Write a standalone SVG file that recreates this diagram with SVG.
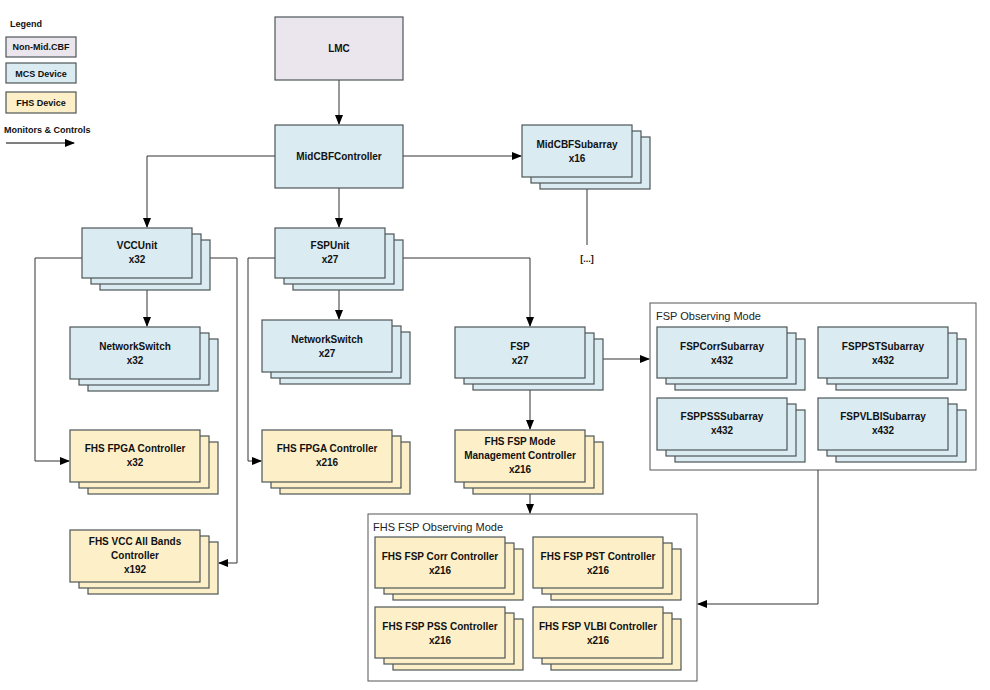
<svg xmlns="http://www.w3.org/2000/svg" width="990" height="690" viewBox="0 0 990 690">
<defs>
<style>
.m{fill:#daebf1;stroke:#4d5558;stroke-width:1.2}
.f{fill:#fdf0c9;stroke:#4d5558;stroke-width:1.2}
.n{fill:#ebe6ee;stroke:#4d5558;stroke-width:1.2}
.c{fill:none;stroke:#fff;stroke-width:0}
.t{font-family:"Liberation Sans",Arial,sans-serif;font-weight:bold;font-size:10px;fill:#111;text-anchor:middle}
.l{font-family:"Liberation Sans",Arial,sans-serif;font-size:11px;fill:#222}
.e{fill:none;stroke:#333;stroke-width:1}
.b{fill:#fff;stroke:#555;stroke-width:1}
</style>
<marker id="a" markerWidth="10" markerHeight="8" refX="9" refY="4" orient="auto" markerUnits="userSpaceOnUse"><path d="M0,0L10,4L0,8Z" fill="#000"/></marker>
</defs>
<rect width="990" height="690" fill="#fff"/>
<g id="legend">
<text class="t" x="10" y="27" style="text-anchor:start;font-size:9px">Legend</text>
<rect class="n" x="6" y="37" width="70" height="20"/><text class="t" x="41" y="50" style="font-size:9px">Non-Mid.CBF</text>
<rect class="m" x="6" y="63" width="70" height="20"/><text class="t" x="41" y="77" style="font-size:9px">MCS Device</text>
<rect class="f" x="6" y="92" width="70" height="21"/><text class="t" x="41" y="106" style="font-size:9px">FHS Device</text>
<text class="t" x="4" y="133" style="text-anchor:start;font-size:9px">Monitors &amp; Controls</text>
<line x1="6" y1="143" x2="74" y2="143" stroke="#000" marker-end="url(#a)"/>
</g>
<g id="containers">
<rect class="b" x="650" y="303" width="326" height="167"/>
<text class="l" x="656" y="320">FSP Observing Mode</text>
<rect class="b" x="368" y="514" width="329" height="167"/>
<text class="l" x="373" y="531">FHS FSP Observing Mode</text>
</g>
<g id="connectors" class="e">
<line x1="339" y1="80" x2="339" y2="124" marker-end="url(#a)"/>
<line x1="403" y1="156" x2="521" y2="156" marker-end="url(#a)"/>
<polyline points="275,156 147,156 147,227" marker-end="url(#a)"/>
<line x1="339" y1="188" x2="339" y2="227" marker-end="url(#a)"/>
<line x1="587" y1="189" x2="587" y2="245"/>
<polyline points="82,258 35,258 35,461 69,461" marker-end="url(#a)"/>
<polyline points="210,258 237,258 237,563 219,563" marker-end="url(#a)"/>
<line x1="147" y1="290" x2="147" y2="326" marker-end="url(#a)"/>
<polyline points="275,258 248,258 248,461 261,461" marker-end="url(#a)"/>
<line x1="339" y1="290" x2="339" y2="319" marker-end="url(#a)"/>
<polyline points="403,258 530,258 530,326" marker-end="url(#a)"/>
<line x1="603" y1="359" x2="649" y2="359" marker-end="url(#a)"/>
<line x1="530" y1="390" x2="530" y2="429" marker-end="url(#a)"/>
<line x1="530" y1="494" x2="530" y2="513" marker-end="url(#a)"/>
<polyline points="818,470 818,604 698,604" marker-end="url(#a)"/>
</g>
<text class="t" x="587" y="262" style="font-size:9px">[...]</text>
<g id="lmc"><rect class="n" x="275" y="17" width="128" height="63"/><text class="t" x="339" y="52">LMC</text></g>
<g id="midcbfcontroller"><rect class="m" x="275" y="125" width="128" height="63"/><text class="t" x="339" y="160">MidCBFController</text></g>
<g id="midcbfsubarray"><rect class="m" x="540" y="137" width="110" height="52"/><rect class="m" x="531" y="131" width="110" height="52"/><rect class="m" x="522" y="125" width="110" height="52"/><text class="t" x="577" y="148">MidCBFSubarray</text><text class="t" x="577" y="162">x16</text></g>
<g id="vccunit"><rect class="m" x="100" y="240" width="110" height="50"/><rect class="m" x="91" y="234" width="110" height="50"/><rect class="m" x="82" y="228" width="110" height="50"/><text class="t" x="137" y="249">VCCUnit</text><text class="t" x="137" y="263">x32</text></g>
<g id="fspunit"><rect class="m" x="293" y="240" width="110" height="50"/><rect class="m" x="284" y="234" width="110" height="50"/><rect class="m" x="275" y="228" width="110" height="50"/><text class="t" x="330" y="249">FSPUnit</text><text class="t" x="330" y="263">x27</text></g>
<g id="networkswitch32"><rect class="m" x="88" y="339" width="130" height="52"/><rect class="m" x="79" y="333" width="130" height="52"/><rect class="m" x="70" y="327" width="130" height="52"/><text class="t" x="135" y="350">NetworkSwitch</text><text class="t" x="135" y="364">x32</text></g>
<g id="networkswitch27"><rect class="m" x="280" y="332" width="130" height="52"/><rect class="m" x="271" y="326" width="130" height="52"/><rect class="m" x="262" y="320" width="130" height="52"/><text class="t" x="327" y="343">NetworkSwitch</text><text class="t" x="327" y="357">x27</text></g>
<g id="fsp"><rect class="m" x="473" y="339" width="130" height="51"/><rect class="m" x="464" y="333" width="130" height="51"/><rect class="m" x="455" y="327" width="130" height="51"/><text class="t" x="520" y="350">FSP</text><text class="t" x="520" y="364">x27</text></g>
<g id="fpga32"><rect class="f" x="88" y="442" width="130" height="52"/><rect class="f" x="79" y="436" width="130" height="52"/><rect class="f" x="70" y="430" width="130" height="52"/><text class="t" x="135" y="452">FHS FPGA Controller</text><text class="t" x="135" y="466">x32</text></g>
<g id="fpga216"><rect class="f" x="280" y="442" width="130" height="52"/><rect class="f" x="271" y="436" width="130" height="52"/><rect class="f" x="262" y="430" width="130" height="52"/><text class="t" x="327" y="452">FHS FPGA Controller</text><text class="t" x="327" y="466">x216</text></g>
<g id="fspmodemgmt"><rect class="f" x="473" y="442" width="130" height="52"/><rect class="f" x="464" y="436" width="130" height="52"/><rect class="f" x="455" y="430" width="130" height="52"/><text class="t" x="520" y="445">FHS FSP Mode</text><text class="t" x="520" y="459">Management Controller</text><text class="t" x="520" y="473">x216</text></g>
<g id="vccallbands"><rect class="f" x="88" y="542" width="130" height="52"/><rect class="f" x="79" y="536" width="130" height="52"/><rect class="f" x="70" y="530" width="130" height="52"/><text class="t" x="135" y="545">FHS VCC All Bands</text><text class="t" x="135" y="559">Controller</text><text class="t" x="135" y="573">x192</text></g>
<g id="fspcorrsubarray"><rect class="m" x="675" y="339" width="130" height="51"/><rect class="m" x="666" y="333" width="130" height="51"/><rect class="m" x="657" y="327" width="130" height="51"/><text class="t" x="722" y="350">FSPCorrSubarray</text><text class="t" x="722" y="364">x432</text></g>
<g id="fsppstsubarray"><rect class="m" x="836" y="339" width="130" height="51"/><rect class="m" x="827" y="333" width="130" height="51"/><rect class="m" x="818" y="327" width="130" height="51"/><text class="t" x="883" y="350">FSPPSTSubarray</text><text class="t" x="883" y="364">x432</text></g>
<g id="fsppsssubarray"><rect class="m" x="675" y="410" width="130" height="52"/><rect class="m" x="666" y="404" width="130" height="52"/><rect class="m" x="657" y="398" width="130" height="52"/><text class="t" x="722" y="420">FSPPSSSubarray</text><text class="t" x="722" y="434">x432</text></g>
<g id="fspvlbisubarray"><rect class="m" x="836" y="410" width="130" height="52"/><rect class="m" x="827" y="404" width="130" height="52"/><rect class="m" x="818" y="398" width="130" height="52"/><text class="t" x="883" y="420">FSPVLBISubarray</text><text class="t" x="883" y="434">x432</text></g>
<g id="fhscorr"><rect class="f" x="393" y="549" width="130" height="51"/><rect class="f" x="384" y="543" width="130" height="51"/><rect class="f" x="375" y="537" width="130" height="51"/><text class="t" x="440" y="560">FHS FSP Corr Controller</text><text class="t" x="440" y="574">x216</text></g>
<g id="fhspst"><rect class="f" x="551" y="549" width="130" height="51"/><rect class="f" x="542" y="543" width="130" height="51"/><rect class="f" x="533" y="537" width="130" height="51"/><text class="t" x="598" y="560">FHS FSP PST Controller</text><text class="t" x="598" y="574">x216</text></g>
<g id="fhspss"><rect class="f" x="393" y="619" width="130" height="51"/><rect class="f" x="384" y="613" width="130" height="51"/><rect class="f" x="375" y="607" width="130" height="51"/><text class="t" x="440" y="630">FHS FSP PSS Controller</text><text class="t" x="440" y="644">x216</text></g>
<g id="fhsvlbi"><rect class="f" x="551" y="619" width="130" height="51"/><rect class="f" x="542" y="613" width="130" height="51"/><rect class="f" x="533" y="607" width="130" height="51"/><text class="t" x="598" y="630">FHS FSP VLBI Controller</text><text class="t" x="598" y="644">x216</text></g>
</svg>
